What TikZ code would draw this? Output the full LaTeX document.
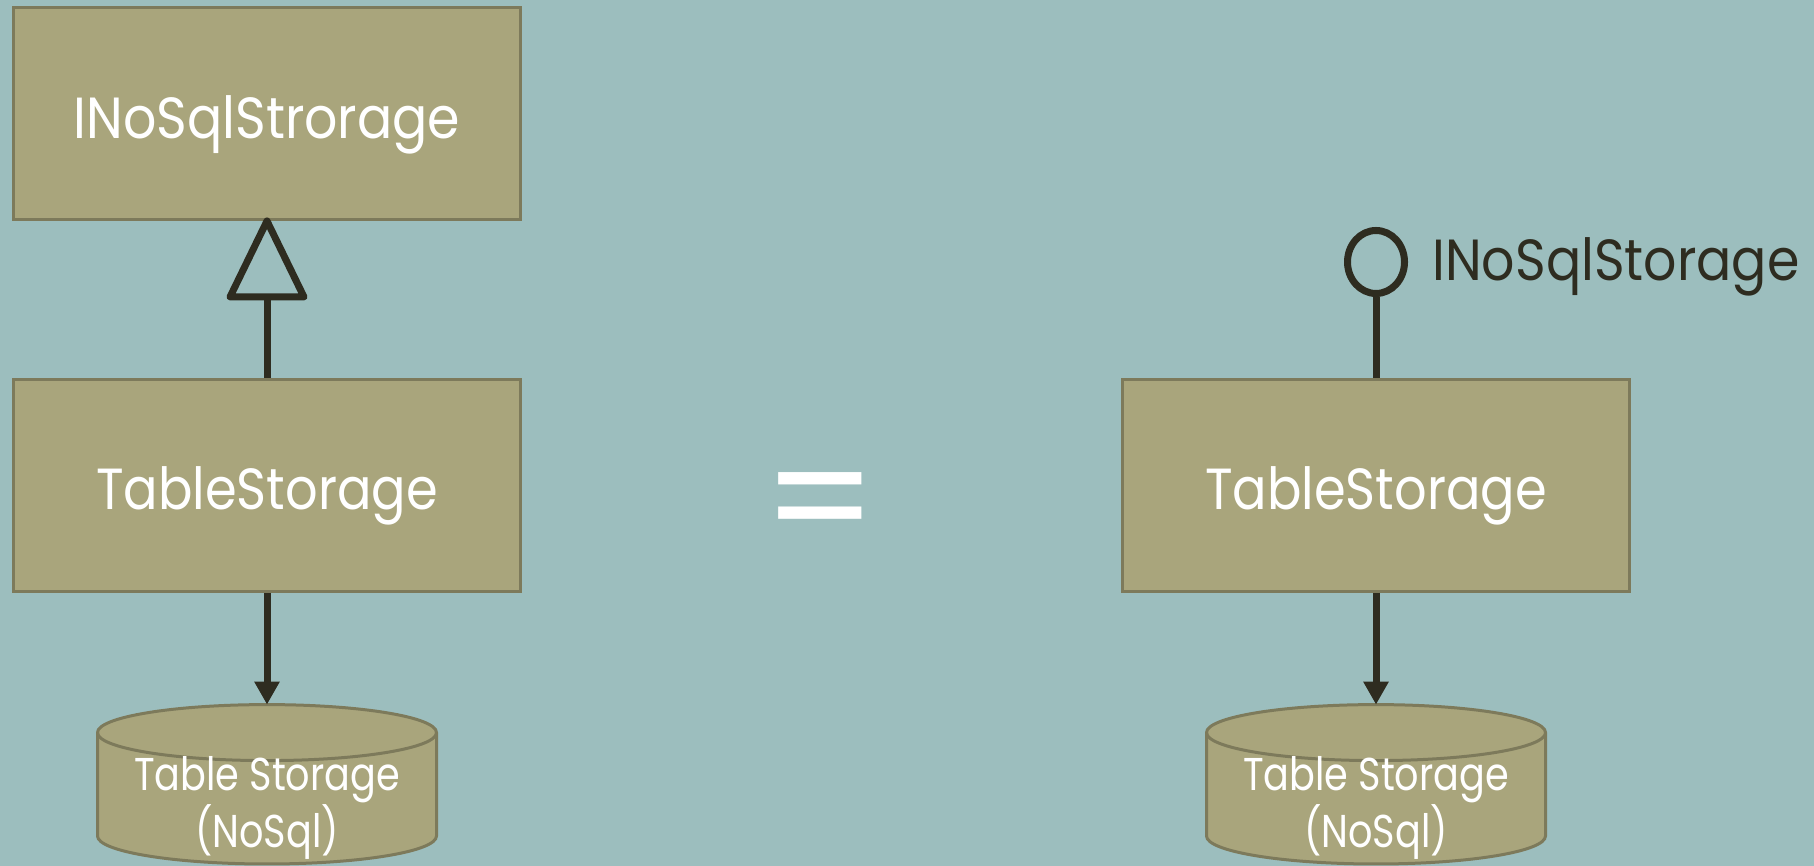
\documentclass[tikz,border=0pt]{standalone}
\usepackage{fontspec}
\setmainfont{Poppins}
\newfontfamily\boxfont[FakeStretch=0.9]{Poppins}
\newfontfamily\tsfont[FakeStretch=0.88]{Poppins}
\newfontfamily\cylfont[FakeStretch=0.83]{Poppins}
\usetikzlibrary{arrows.meta,calc,shapes.geometric}
\definecolor{bg}{HTML}{9CBEBE}
\definecolor{boxfill}{HTML}{A9A57C}
\definecolor{boxline}{HTML}{7D7A5B}
\definecolor{ink}{HTML}{2E2C20}
\begin{document}
\begin{tikzpicture}[x=0.5pt,y=0.5pt,
  umlbox/.style={draw=boxline, fill=boxfill, line width=1.5pt, minimum width=253.5pt, minimum height=106pt, inner sep=0pt, text=white, font=\fontsize{29}{35}\selectfont, text depth=0pt},
  conn/.style={draw=ink, line width=3.5pt},
  cyltext/.style={text=white, align=center, font=\cylfont\fontsize{23}{28.5}\selectfont, inner sep=0pt},
  lolli/.style={draw=ink, line width=3.5pt, ellipse, inner sep=0pt, minimum width=28.5pt, minimum height=31.5pt},
  dbcyl/.pic={
    \path[fill=boxfill, draw=boxline, line width=1.5pt] (-169.5,133.4) -- (-169.5,30) arc[start angle=180,end angle=360,x radius=169.5,y radius=28] -- (169.5,133.4) arc[start angle=0,end angle=180,x radius=169.5,y radius=28] -- cycle;
    \draw[boxline, line width=1.5pt] (-169.5,133.4) arc[start angle=180,end angle=360,x radius=169.5,y radius=28];
  }]
\fill[bg] (0,0) rectangle (1814,866);
\useasboundingbox (0,0) rectangle (1814,866);

% left side
\node[umlbox, text height=25.5pt] (iface) at (267,752.5) {\boxfont INoSqlStrorage};
\node[umlbox, text height=24.5pt] (ts) at (267,380.5) {\tsfont TableStorage};
\pic at (267,0) {dbcyl};
\node[cyltext] (db) at (267,58) {Table Storage\\(NoSql)};
\coordinate (dbtop) at (267,161.4);
\coordinate (tribase) at ($(iface.south)+(0,-76)$);
\draw[conn] (ts.north) -- (tribase);
\draw[conn, line join=round] (iface.south) -- ($(iface.south)+(37,-76)$) -- ($(iface.south)+(-37,-76)$) -- cycle;
\draw[conn, -{Triangle[length=11.5pt,width=12pt]}] (ts.south) -- (dbtop);

% equals
\node[text=white, font=\fontsize{80}{80}\selectfont, inner sep=0pt] (eq) at (820.5,352.5) {=};

% right side
\node[umlbox, text height=24.5pt] (ts2) at (1376,380.5) {\tsfont TableStorage};
\pic at (1376,0) {dbcyl};
\node[cyltext] (db2) at (1376,58) {Table Storage\\(NoSql)};
\coordinate (db2top) at (1376,161.4);
\draw[conn, -{Triangle[length=11.5pt,width=12pt]}] (ts2.south) -- (db2top);
\node[lolli] (ball) at (1376,604) {};
\draw[conn] (ts2.north) -- (ball.south);
\node[anchor=base west, text=ink, font=\boxfont\fontsize{29}{35}\selectfont, inner sep=0pt] (lbl) at (1432,585) {INoSqlStorage};
\end{tikzpicture}
\end{document}
